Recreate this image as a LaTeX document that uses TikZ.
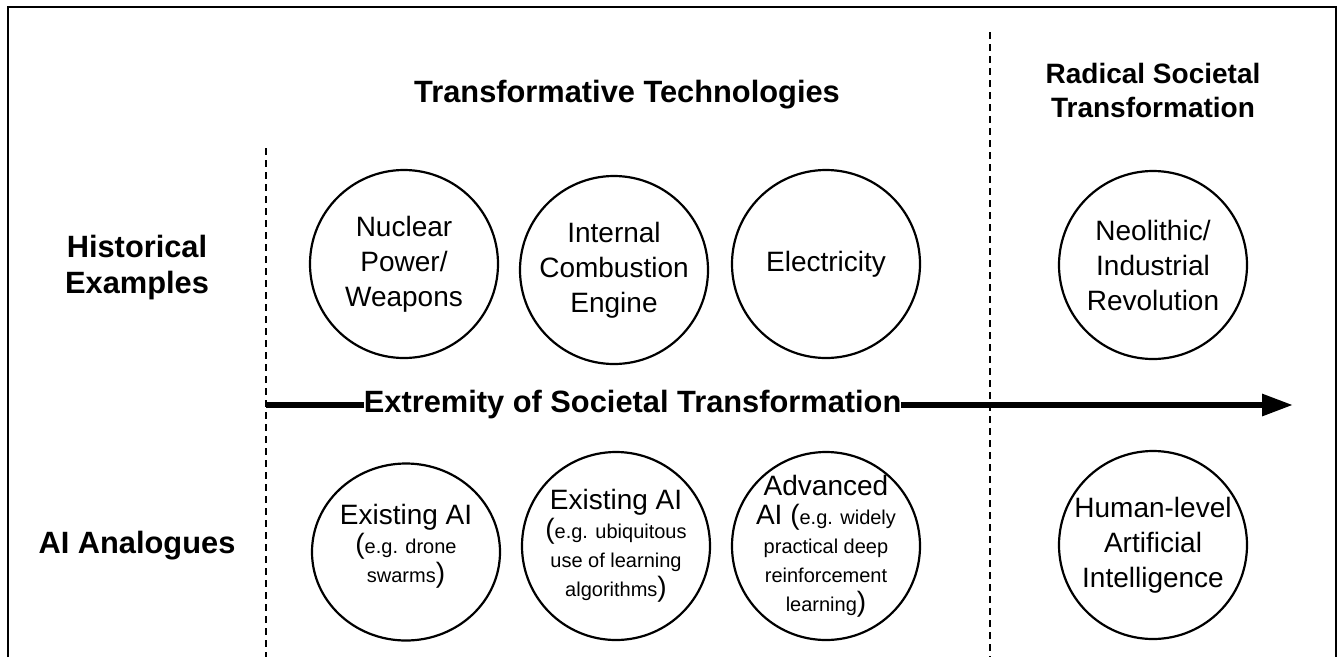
\documentclass[tikz,border=0pt]{standalone}
\usepackage{fontspec}
\setmainfont{Liberation Sans}
\usetikzlibrary{arrows.meta,shapes.geometric}
\newcommand{\bigfs}{\fontsize{28}{35}\selectfont}
\newcommand{\smallfs}{\fontsize{20}{29}\selectfont}
\begin{document}
\begin{tikzpicture}[x=1pt, y=-1pt,
    bubble/.style={ellipse, draw, line width=2.2pt, minimum width=188pt, minimum height=188pt, inner sep=0pt},
    inside/.style={align=center, font=\bigfs},
    insidesmall/.style={align=center, font=\smallfs},
    heading/.style={align=center, font=\fontsize{30.8}{36}\selectfont\bfseries},
    divider/.style={line width=1.8pt, dash pattern=on 7pt off 5pt}]
\useasboundingbox (0,0) rectangle (1342,657);
% frame, open at the bottom
\draw[line width=2.6pt] (8,657)--(8,7)--(1336,7)--(1336,657);
\draw[divider] (266,148)--(266,657);
\draw[divider] (990,32)--(990,657);
% headings
\node[heading, anchor=base] (techtitle) at (627,102) {Transformative Technologies};
\node[heading, font=\fontsize{28}{34}\selectfont\bfseries] (radtitle) at (1153,90) {Radical Societal\\Transformation};
\node[heading] (histrow) at (137,268) {Historical\\Examples};
\node[heading, anchor=base] (airow) at (137,553) {AI Analogues};
% historical examples
\node[bubble, label={[inside]center:{Nuclear\\Power/\\Weapons}}] (nuclear) at (404,264) {};
\node[bubble, label={[inside]center:{Internal\\Combustion\\Engine}}] (engine) at (614,270) {};
\node[bubble, label={[inside]center:{Electricity}}] (electricity) at (826,264) {};
\node[bubble, label={[inside]center:{Neolithic/\\Industrial\\Revolution}}] (neolithic) at (1153,265) {};
% AI analogues
\node[bubble, minimum height=177pt, label={[insidesmall, yshift=6pt]center:{{\bigfs Existing AI}\\{\bigfs(}e.g. drone\\swarms{\bigfs)}}}] (droneai) at (406,552) {};
\node[bubble, label={[insidesmall]center:{{\bigfs Existing AI}\\{\bigfs(}e.g. ubiquitous\\use of learning\\algorithms{\bigfs)}}}] (learnai) at (616,546) {};
\node[bubble, label={[insidesmall]center:{{\bigfs Advanced}\\{\bigfs AI (}e.g. widely\\practical deep\\reinforcement\\learning{\bigfs)}}}] (advai) at (826,546) {};
\node[bubble, label={[inside]center:{Human-level\\Artificial\\Intelligence}}] (humanai) at (1153,545) {};
% axis
\coordinate (axisstart) at (266,405);
\coordinate (axisend) at (1293,405);
\draw[line width=6pt, -{Triangle[length=31pt, width=21pt]}] (axisstart) -- (axisend)
    node[pos=0.357, heading, fill=white, inner sep=0pt] (axislabel) {Extremity of Societal Transformation};
\end{tikzpicture}
\end{document}
